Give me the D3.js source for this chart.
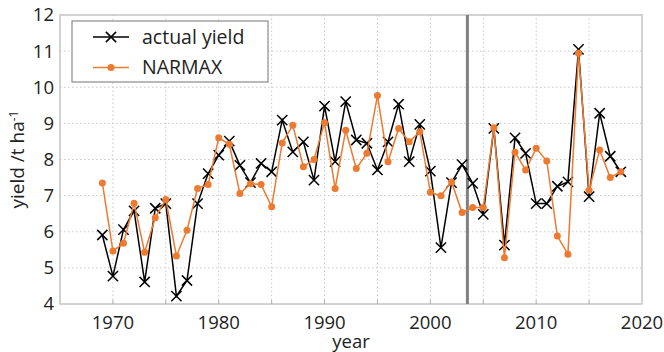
<!DOCTYPE html>
<html lang="en">
<head>
    <meta charset="UTF-8">
    <title>Yield vs NARMAX</title>
    <style>
        body { margin: 0; background: #fff; }
        svg text { font-family: "Open Sans", sans-serif; fill: #222; }
        .grid line { stroke: #c8c8c8; stroke-dasharray: 1.5, 2.5; }
        .frame { fill: none; stroke: #c4c4c4; stroke-width: 1.5px; }
    </style>
    <script src="https://d3js.org/d3.v7.min.js"></script>
</head>
<body>
    <div id="chart"></div>
    <script>
        // data
        const years = d3.range(1969, 2019);
        const actualYield = [
            5.91, 4.77, 6.06, 6.58, 4.61, 6.65, 6.78, 4.22, 4.65, 6.78,
            7.61, 8.12, 8.51, 7.84, 7.36, 7.89, 7.66, 9.09, 8.21, 8.49,
            7.43, 9.48, 7.94, 9.60, 8.54, 8.45, 7.71, 8.49, 9.53, 7.94,
            8.97, 7.68, 5.56, 7.36, 7.86, 7.34, 6.48, 8.86, 5.63, 8.60,
            8.17, 6.78, 6.78, 7.26, 7.38, 11.05, 6.97, 9.28, 8.09, 7.66
        ];
        const narmax = [
            7.35, 5.47, 5.68, 6.79, 5.43, 6.39, 6.89, 5.33, 6.04, 7.20,
            7.31, 8.60, 8.42, 7.06, 7.33, 7.31, 6.69, 8.46, 8.95, 7.80,
            8.00, 9.02, 7.20, 8.81, 7.75, 8.17, 9.77, 7.94, 8.86, 8.49,
            8.77, 7.09, 7.00, 7.38, 6.53, 6.67, 6.67, 8.88, 5.28, 8.20,
            7.71, 8.31, 7.96, 5.88, 5.38, 10.94, 7.15, 8.26, 7.50, 7.66
        ];
        const xTicks = [1970, 1980, 1990, 2000, 2010, 2020];
        const xGrid = d3.range(1970, 2020, 5);
        const yTicks = d3.range(4, 13);
        const splitYear = 2003.5;
        const seriesNames = ["actual yield", "NARMAX"];

        const width = 664, height = 352;
        const margin = { left: 60, right: 22, top: 15, bottom: 48 };
        const orange = "#ee7a30";

        const x = d3.scaleLinear().domain([1965, 2020]).range([margin.left, width - margin.right]);
        const y = d3.scaleLinear().domain([4, 12]).range([height - margin.bottom, margin.top]);

        const svg = d3.select("#chart").append("svg")
            .attr("width", width)
            .attr("height", height);

        // grid
        const grid = svg.append("g").attr("class", "grid");
        grid.selectAll(".gx")
            .data(xGrid)
            .enter().append("line")
            .attr("x1", d => x(d)).attr("x2", d => x(d))
            .attr("y1", y(4)).attr("y2", y(12));
        grid.selectAll(".gy")
            .data(yTicks.slice(1, -1))
            .enter().append("line")
            .attr("x1", x(1965)).attr("x2", x(2020))
            .attr("y1", d => y(d)).attr("y2", d => y(d));

        // frame
        svg.append("rect")
            .attr("class", "frame")
            .attr("x", x(1965)).attr("y", y(12))
            .attr("width", x(2020) - x(1965))
            .attr("height", y(4) - y(12));

        // small ticks on bottom axis
        svg.append("g").selectAll("line")
            .data(xGrid)
            .enter().append("line")
            .attr("x1", d => x(d)).attr("x2", d => x(d))
            .attr("y1", y(4)).attr("y2", y(4) - 4)
            .style("stroke", "#b0b0b0");

        // tick labels
        svg.append("g").selectAll("text")
            .data(yTicks)
            .enter().append("text")
            .attr("x", x(1965) - 6)
            .attr("y", d => y(d))
            .attr("dy", "0.35em")
            .attr("text-anchor", "end")
            .style("font-size", "18.5px")
            .text(d => d);

        svg.append("g").selectAll("text")
            .data(xTicks)
            .enter().append("text")
            .attr("x", d => x(d))
            .attr("y", y(4) + 25)
            .attr("text-anchor", "middle")
            .style("font-size", "18.5px")
            .text(d => d);

        svg.append("text")
            .attr("x", x(1992.5))
            .attr("y", height - 4)
            .attr("text-anchor", "middle")
            .style("font-size", "18.5px")
            .text("year");

        const ylab = svg.append("text")
            .attr("transform", `translate(24,${y(8)}) rotate(-90)`)
            .attr("text-anchor", "middle")
            .style("font-size", "19px")
            .text("yield /t ha");
        ylab.append("tspan")
            .attr("dy", "-0.5em")
            .style("font-size", "12px")
            .text("-1");

        // split marker
        svg.append("line")
            .attr("x1", x(splitYear)).attr("x2", x(splitYear))
            .attr("y1", y(12)).attr("y2", y(4))
            .style("stroke", "#808080")
            .style("stroke-width", 3);

        const line = d3.line()
            .x((d, i) => x(years[i]))
            .y(d => y(d));

        // actual yield
        svg.append("path")
            .datum(actualYield)
            .attr("d", line)
            .style("fill", "none")
            .style("stroke", "#000")
            .style("stroke-width", 1.5);

        const cross = d3.symbol().type(d3.symbolX).size(70);
        svg.append("g").selectAll("path")
            .data(actualYield)
            .enter().append("path")
            .attr("d", cross)
            .attr("transform", (d, i) => `translate(${x(years[i])},${y(d)})`)
            .style("fill", "none")
            .style("stroke", "#000")
            .style("stroke-width", 1.5);

        // NARMAX
        svg.append("path")
            .datum(narmax)
            .attr("d", line)
            .style("fill", "none")
            .style("stroke", orange)
            .style("stroke-width", 1.5);

        svg.append("g").selectAll("circle")
            .data(narmax)
            .enter().append("circle")
            .attr("cx", (d, i) => x(years[i]))
            .attr("cy", d => y(d))
            .attr("r", 3.5)
            .style("fill", orange);

        // legend
        const legend = svg.append("g");
        legend.append("rect")
            .attr("x", 72).attr("y", 21)
            .attr("width", 196).attr("height", 61)
            .style("fill", "#fff")
            .style("stroke", "#8a8a8a")
            .style("stroke-width", 1.2);

        const rows = legend.selectAll(".row")
            .data(seriesNames)
            .enter().append("g")
            .attr("transform", (d, i) => `translate(0,${37 + i * 30.5})`);

        rows.append("line")
            .attr("x1", 93).attr("x2", 129)
            .style("stroke", (d, i) => i === 0 ? "#000" : orange)
            .style("stroke-width", 1.5);
        rows.filter((d, i) => i === 0).append("path")
            .attr("d", cross)
            .attr("transform", "translate(111,0)")
            .style("fill", "none")
            .style("stroke", "#000")
            .style("stroke-width", 1.5);
        rows.filter((d, i) => i === 1).append("circle")
            .attr("cx", 111).attr("r", 3.5)
            .style("fill", orange);
        rows.append("text")
            .attr("x", 142)
            .attr("dy", "0.35em")
            .style("font-size", "19.5px")
            .text(d => d);
    </script>
</body>
</html>
